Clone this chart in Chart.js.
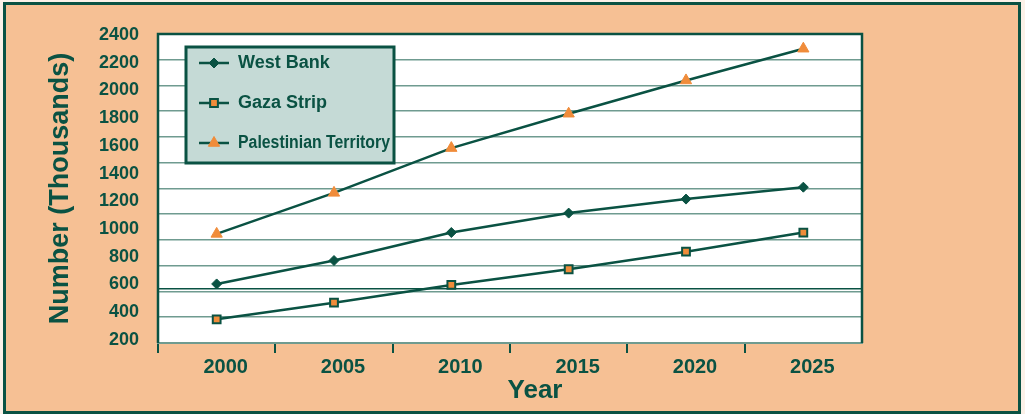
<!DOCTYPE html>
<html>
<head>
<meta charset="utf-8">
<script src="https://cdn.jsdelivr.net/npm/chart.js@4.4.1/dist/chart.umd.min.js"></script>
<style>
    html, body { margin: 0; padding: 0; background: #fbf1e8; }
    #frame {
        position: absolute; left: 3px; top: 2px;
        width: 1018px; height: 412px;
        box-sizing: border-box;
        border: 3px solid #0a5243;
        background: #f6c094;
    }
    #wrap { position: absolute; left: 0; top: 0; width: 1025px; height: 414px; }
</style>
</head>
<body>
<div id="frame"></div>
<div id="wrap"><canvas id="popChart" width="1025" height="414"></canvas></div>
<script>
/* DATA */
const years = ["2000", "2005", "2010", "2015", "2020", "2025"];
const westBank = [604, 773, 975, 1115, 1216, 1302];
const gazaStrip = [349, 469, 597, 710, 837, 975];
const palTerritory = [965, 1261, 1584, 1832, 2072, 2301];
const yTicks = [200, 400, 600, 800, 1000, 1200, 1400, 1600, 1800, 2000, 2200, 2400];

/* COLOURS */
const green = "#0a5243";
const gridGreen = "#6f9b90";
const orange = "#f08c3a";
const font = "'Liberation Sans', Arial, sans-serif";


/* PLOT BACKGROUND + FRAME */
const plotFrame = {
    id: "plotFrame",
    beforeDraw(chart) {
        const { ctx, chartArea: a } = chart;
        ctx.save();
        ctx.fillStyle = "#ffffff";
        ctx.fillRect(a.left, a.top, a.right - a.left, a.bottom - a.top);
        ctx.restore();
    },
    afterDatasetsDraw(chart) {
        const { ctx, chartArea: a } = chart;
        ctx.save();
        ctx.strokeStyle = green;
        ctx.lineWidth = 2.5;
        ctx.beginPath();
        ctx.moveTo(a.left, a.bottom);
        ctx.lineTo(a.left, a.top);
        ctx.lineTo(a.right, a.top);
        ctx.lineTo(a.right, a.bottom);
        ctx.stroke();
        ctx.restore();
    }
};


/* LEGEND BOX INSIDE PLOT */
const boxLegend = {
    id: "boxLegend",
    afterDatasetsDraw(chart) {
        const { ctx, chartArea: a } = chart;
        const x = a.left + 28, y = a.top + 13, w = 208, h = 116;

        ctx.save();
        ctx.fillStyle = "#c5dad6";
        ctx.fillRect(x, y, w, h);
        ctx.strokeStyle = green;
        ctx.lineWidth = 3;
        ctx.strokeRect(x, y, w, h);

        chart.data.datasets.forEach((ds, i) => {
            const cy = y + 16 + i * 40;

            ctx.strokeStyle = ds.borderColor;
            ctx.lineWidth = ds.borderWidth;
            ctx.beginPath();
            ctx.moveTo(x + 13, cy);
            ctx.lineTo(x + 43, cy);
            ctx.stroke();

            ctx.fillStyle = ds.pointBackgroundColor;
            ctx.strokeStyle = ds.pointBorderColor;
            ctx.lineWidth = ds.pointBorderWidth;
            Chart.helpers.drawPoint(ctx, {
                pointStyle: ds.pointStyle,
                radius: ds.pointRadius,
                rotation: 0,
                borderWidth: ds.pointBorderWidth
            }, x + 28, cy);

            ctx.fillStyle = green;
            ctx.font = "bold 18px " + font;
            ctx.textBaseline = "middle";
            ctx.textAlign = "left";
            ctx.fillText(ds.label, x + 52, cy, w - 56);
        });
        ctx.restore();
    }
};


/* X AXIS TITLE */
const xTitle = {
    id: "xTitle",
    afterDraw(chart) {
        const { ctx, chartArea: a } = chart;
        ctx.save();
        ctx.fillStyle = green;
        ctx.font = "bold 26px " + font;
        ctx.textAlign = "center";
        ctx.textBaseline = "middle";
        ctx.fillText("Year", (a.left + a.right) / 2 + 25, a.bottom + 48);
        ctx.restore();
    }
};


function makeSeries(label, data, style) {
    return Object.assign({
        label: label,
        data: data,
        borderColor: green,
        borderWidth: 2.5,
        tension: 0,
        fill: false,
        yAxisID: "y"
    }, style);
}


new Chart(document.getElementById("popChart").getContext("2d"), {
    type: "line",
    data: {
        labels: years,
        datasets: [
            makeSeries("West Bank", westBank, {
                pointStyle: "rectRot", pointRadius: 5,
                pointBackgroundColor: green, pointBorderColor: green, pointBorderWidth: 1
            }),
            makeSeries("Gaza Strip", gazaStrip, {
                pointStyle: "rect", pointRadius: 5.5,
                pointBackgroundColor: orange, pointBorderColor: green, pointBorderWidth: 2
            }),
            makeSeries("Palestinian Territory", palTerritory, {
                pointStyle: "triangle", pointRadius: 6.5,
                pointBackgroundColor: orange, pointBorderColor: orange, pointBorderWidth: 1
            })
        ]
    },
    options: {
        responsive: false,
        animation: false,
        layout: { padding: { left: 0, top: 34, right: 163, bottom: 0 } },
        plugins: {
            legend: { display: false },
            tooltip: { enabled: false }
        },
        scales: {
            x: {
                offset: true,
                afterFit(scale) { scale.height = 71; },
                grid: {
                    offset: true,
                    drawOnChartArea: false,
                    drawTicks: true,
                    tickLength: 10,
                    lineWidth: 2,
                    color: c => c.tick === undefined ? "transparent" : green
                },
                border: { display: true, color: gridGreen, width: 2 },
                ticks: {
                    color: green,
                    labelOffset: 9,
                    padding: 2,
                    font: { family: font, size: 20, weight: "bold" }
                }
            },
            y: {
                min: 178,
                max: 2407,
                afterBuildTicks(scale) { scale.ticks = yTicks.map(v => ({ value: v })); },
                afterFit(scale) { scale.width = 158; },
                grid: { display: false, drawTicks: false },
                border: { display: false },
                ticks: {
                    color: green,
                    padding: 19,
                    callback: v => String(v),
                    font: { family: font, size: 18, weight: "bold" }
                },
                title: {
                    display: true,
                    text: "Number (Thousands)",
                    color: green,
                    padding: { top: 44, bottom: 0 },
                    font: { family: font, size: 27, weight: "bold" }
                }
            },
            yGrid: {
                position: "left",
                min: 0,
                max: 12,
                afterBuildTicks(scale) {
                    const t = [];
                    for (let i = 0; i <= 12; i++) t.push({ value: i });
                    t.push({ value: 2.12 });
                    scale.ticks = t;
                },
                grid: {
                    drawTicks: false,
                    lineWidth: c => c.tick && c.tick.value === 2.12 ? 1.5 : 1.6,
                    color: c => c.tick && c.tick.value === 2.12 ? green : gridGreen
                },
                border: { display: false },
                ticks: { display: false }
            }
        }
    },
    plugins: [plotFrame, boxLegend, xTitle]
});
</script>
</body>
</html>
